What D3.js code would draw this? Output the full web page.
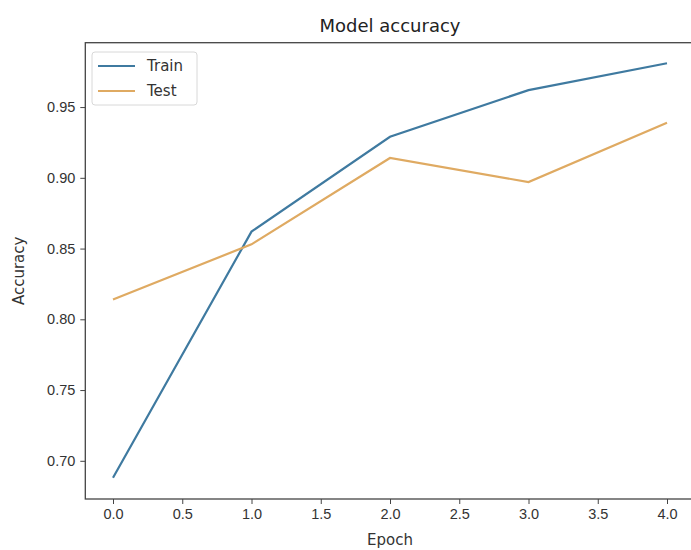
<!DOCTYPE html>
<html>
<head>
<meta charset="utf-8">
<script src="https://cdn.jsdelivr.net/npm/d3@7"></script>
<style>
  body { margin: 0; background: #fff; }
  svg { display: block; font-family: "DejaVu Sans", sans-serif; }
</style>
</head>
<body>
<svg id="chart" width="691" height="550"></svg>
<script>
// values
const epochs = [0, 1, 2, 3, 4];
const trainAcc = [0.688, 0.862, 0.929, 0.962, 0.981];
const testAcc = [0.814, 0.853, 0.914, 0.897, 0.939];
const xTicks = [0, 0.5, 1, 1.5, 2, 2.5, 3, 3.5, 4];
const yTicks = [0.70, 0.75, 0.80, 0.85, 0.90, 0.95];

const colors = { train: "#3f7aa0", test: "#dfaa62" };

const svg = d3.select("#chart");

// plot area (right spine falls just outside the picture)
const plotLeft = 85.3, plotRight = 694.7, plotTop = 42.7, plotBottom = 499;

const x = d3.scaleLinear().domain([-0.2, 4.2]).range([plotLeft, plotRight]);
const y = d3.scaleLinear().domain([0.673, 0.9955]).range([plotBottom, plotTop]);

// axes
svg.append("g")
    .attr("transform", `translate(0,${plotBottom})`)
    .call(d3.axisBottom(x).tickValues(xTicks).tickFormat(d3.format(".1f")).tickSizeOuter(0).tickSize(5).tickPadding(5))
    .call(g => g.select(".domain").remove())
    .selectAll("text")
    .attr("font-size", 14.5)
    .attr("fill", "#333");

svg.append("g")
    .attr("transform", `translate(${plotLeft},0)`)
    .call(d3.axisLeft(y).tickValues(yTicks).tickFormat(d3.format(".2f")).tickSizeOuter(0).tickSize(5).tickPadding(5))
    .call(g => g.select(".domain").remove())
    .selectAll("text")
    .attr("font-size", 14.5)
    .attr("fill", "#333");

svg.selectAll(".tick line").attr("stroke", "#444");

// frame
svg.append("rect")
    .attr("x", plotLeft).attr("y", plotTop)
    .attr("width", plotRight - plotLeft).attr("height", plotBottom - plotTop)
    .attr("fill", "none")
    .attr("stroke", "#444")
    .attr("stroke-width", 1.3);

// lines
const line = d3.line().x((d, i) => x(epochs[i])).y(d => y(d));

svg.append("path")
    .datum(trainAcc)
    .attr("d", line)
    .attr("fill", "none")
    .attr("stroke", colors.train)
    .attr("stroke-width", 2.2);

svg.append("path")
    .datum(testAcc)
    .attr("d", line)
    .attr("fill", "none")
    .attr("stroke", colors.test)
    .attr("stroke-width", 2.2);

// title and labels
svg.append("text")
    .attr("x", (plotLeft + plotRight) / 2)
    .attr("y", 32)
    .attr("text-anchor", "middle")
    .attr("font-size", 18)
    .attr("fill", "#222")
    .text("Model accuracy");

svg.append("text")
    .attr("x", (plotLeft + plotRight) / 2)
    .attr("y", 545)
    .attr("text-anchor", "middle")
    .attr("font-size", 15)
    .attr("fill", "#333")
    .text("Epoch");

svg.append("text")
    .attr("transform", `translate(24,${(plotTop + plotBottom) / 2}) rotate(-90)`)
    .attr("text-anchor", "middle")
    .attr("font-size", 15)
    .attr("fill", "#333")
    .text("Accuracy");

// legend
const legend = svg.append("g").attr("transform", "translate(92,52)");

legend.append("rect")
    .attr("width", 105).attr("height", 53)
    .attr("rx", 3)
    .attr("fill", "#fff")
    .attr("stroke", "#d8d8d8");

const items = [["Train", colors.train], ["Test", colors.test]];
items.forEach((it, i) => {
    const yy = 14 + i * 25;
    legend.append("line")
        .attr("x1", 6).attr("x2", 43)
        .attr("y1", yy).attr("y2", yy)
        .attr("stroke", it[1])
        .attr("stroke-width", 2.2);
    legend.append("text")
        .attr("x", 55).attr("y", yy + 5)
        .attr("font-size", 15)
        .attr("fill", "#333")
        .text(it[0]);
});
</script>
</body>
</html>
